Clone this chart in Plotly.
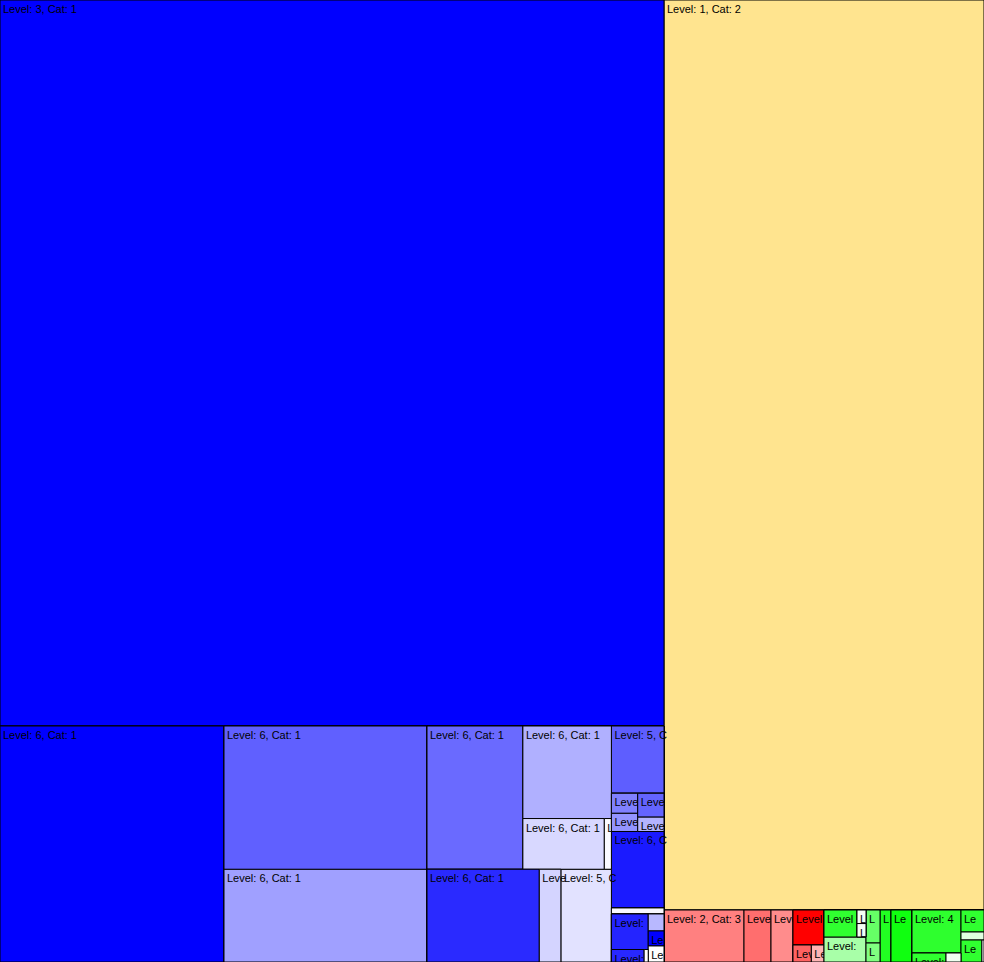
import plotly.graph_objects as go

# ---- hierarchy (ids / parents / labels) ----
node_ids = [
    "c1", "big", "B", "A", "C", "C1", "C2", "G", "D", "Dtop", "D1", "Dtr", "D2", "D3", "D4",
    "Dbot", "X", "D5", "D6", "D7", "E", "E1", "Emid", "EmL", "E2", "E4", "EmR", "E3", "E5",
    "E6", "Ebot", "E7", "Ebb", "EL", "E8", "E9row", "E9", "E9t", "ER", "ER1", "ER2", "ER3",
    "c2",
    "c3", "R1", "R2", "R3", "R4", "R4a", "R4b", "R4b1", "R4b2",
    "c4", "GA", "G1", "G1top", "G1a", "G1w", "G1w1", "G1w2", "G1b", "G2", "G2a", "G2b",
    "GR", "G3", "H", "G4", "GC", "G5", "G5a", "G5b", "G5b1", "G5b2", "G6", "G6a", "G6w", "G6b", "G6t",
]
node_parents = [
    "", "c1", "c1", "B", "B", "C", "C", "B", "G", "D", "Dtop", "Dtop", "Dtr", "Dtr", "Dtr",
    "D", "Dbot", "X", "X", "Dbot", "G", "E", "E", "Emid", "EmL", "EmL", "Emid", "EmR", "EmR",
    "E", "E", "Ebot", "Ebot", "Ebb", "EL", "EL", "E9row", "E9row", "Ebb", "ER", "ER", "ER",
    "",
    "", "c3", "c3", "c3", "c3", "R4", "R4", "R4b", "R4b",
    "", "c4", "GA", "G1", "G1top", "G1top", "G1w", "G1w", "G1", "GA", "G2", "G2",
    "c4", "GR", "GR", "H", "H", "GC", "G5", "G5", "G5b", "G5b", "GC", "G6", "G6", "G6", "G6",
]
node_labels = [
    "Level: 1, Cat: 1", "Level: 3, Cat: 1", "Level: 2, Cat: 1", "Level: 6, Cat: 1",
    "Level: 3, Cat: 1", "Level: 6, Cat: 1", "Level: 6, Cat: 1", "Level: 3, Cat: 1",
    "Level: 4, Cat: 1", "Level: 5, Cat: 1", "Level: 6, Cat: 1", "Level: 5, Cat: 1",
    "Level: 6, Cat: 1", "Level: 6, Cat: 1", "Level: 6, Cat: 1",
    "Level: 4, Cat: 1", "Level: 5, Cat: 1", "Level: 6, Cat: 1", "Level: 6, Cat: 1",
    "Level: 5, Cat: 1", "Level: 4, Cat: 1", "Level: 5, Cat: 1", "Level: 4, Cat: 1",
    "Level: 5, Cat: 1", "Level: 6, Cat: 1", "Level: 6, Cat: 1", "Level: 5, Cat: 1",
    "Level: 6, Cat: 1", "Level: 6, Cat: 1",
    "Level: 6, Cat: 1", "Level: 4, Cat: 1", "Level: 6, Cat: 1", "Level: 5, Cat: 1",
    "Level: 5, Cat: 1", "Level: 6, Cat: 1", "Level: 5, Cat: 1", "Level: 6, Cat: 1",
    "Level: 6, Cat: 1", "Level: 5, Cat: 1", "Level: 6, Cat: 1", "Level: 6, Cat: 1",
    "Level: 6, Cat: 1",
    "Level: 1, Cat: 2",
    "Level: 1, Cat: 3", "Level: 2, Cat: 3", "Level: 2, Cat: 3", "Level: 3, Cat: 3",
    "Level: 2, Cat: 3", "Level: 3, Cat: 3", "Level: 3, Cat: 3", "Level: 4, Cat: 3",
    "Level: 4, Cat: 3",
    "Level: 1, Cat: 4", "Level: 2, Cat: 4", "Level: 3, Cat: 4", "Level: 4, Cat: 4",
    "Level: 5, Cat: 4", "Level: 5, Cat: 4", "Level: 6, Cat: 4", "Level: 6, Cat: 4",
    "Level: 5, Cat: 4", "Level: 3, Cat: 4", "Level: 4, Cat: 4", "Level: 4, Cat: 4",
    "Level: 2, Cat: 4", "Level: 3, Cat: 4", "Level: 2, Cat: 4", "Level: 3, Cat: 4",
    "Level: 3, Cat: 4", "Level: 3, Cat: 4", "Level: 4, Cat: 4", "Level: 4, Cat: 4",
    "Level: 5, Cat: 4", "Level: 5, Cat: 4", "Level: 3, Cat: 4", "Level: 4, Cat: 4",
    "Level: 4, Cat: 4", "Level: 4, Cat: 4", "Level: 4, Cat: 4",
]

# ---- values (leaf sizes; parents carry 0 and sum their children) ----
node_values = [
    0, 482064, 0, 52864, 0, 29100, 18808, 0, 0, 0, 13736, 0, 8191, 4129, 359,
    0, 0, 10416, 2001, 4686, 0, 3538, 0, 0, 528, 478, 0, 628, 377,
    4022, 0, 316, 0, 0, 1309, 0, 409, 51, 0, 268, 237, 253,
    291200,
    0, 4160, 1404, 1144, 0, 1085, 0, 312, 215,
    0, 0, 0, 0, 891, 0, 122, 121, 1050, 0, 462, 266,
    0, 572, 0, 1092, 0, 0, 2107, 0, 306, 135, 0, 506, 184, 460, 46,
]

# ---- colours ----
node_colors = [
    "#0000FF", "#0000FF", "#0000FF", "#0000FF", "#6060FF", "#6060FF", "#A0A0FF", "#0000FF",
    "#6A6AFF", "#6A6AFF", "#6A6AFF", "#B0B0FF", "#B0B0FF", "#D8D8FF", "#FAFAFF",
    "#2A2AFF", "#2A2AFF", "#2A2AFF", "#D4D4FF", "#E2E2FF", "#5E5EFF", "#5E5EFF", "#8080FF",
    "#8080FF", "#8080FF", "#9494FF", "#6464FF", "#6464FF", "#B4B4FF",
    "#1A1AFF", "#F8F8FF", "#F8F8FF", "#2424FF", "#2424FF", "#2424FF", "#2828FF", "#2828FF",
    "#FFFFFF", "#B8B8FF", "#B8B8FF", "#0000FF", "#FFFFFF",
    "#FFE48F",
    "#FF8080", "#FF8080", "#FF6E6E", "#FF8C8C", "#FF0000", "#FF0000", "#FF6262", "#FF6262",
    "#FFB4B4",
    "#30FF30", "#30FF30", "#30FF30", "#30FF30", "#30FF30", "#F4FFF4", "#F4FFF4", "#F4FFF4",
    "#A8FFA8", "#66FF66", "#66FF66", "#80FF80",
    "#22FF22", "#22FF22", "#10FF10", "#10FF10", "#2EFF2E", "#2EFF2E", "#2EFF2E", "#30FF30",
    "#30FF30", "#F0FFF0", "#30FF30", "#30FF30", "#E0FFE0", "#30FF30", "#FFFFFF",
]

# ---- label text as it appears (clipped) in each cell ----
node_text = [
    "", "Level: 3, Cat: 1", "", "Level: 6, Cat: 1", "", "Level: 6, Cat: 1", "Level: 6, Cat: 1",
    "", "", "", "Level: 6, Cat: 1", "", "Level: 6, Cat: 1", "Level: 6, Cat: 1", "L",
    "", "", "Level: 6, Cat: 1", "Leve", "Level: 5, C", "", "Level: 5, C", "",
    "", "Level", "Level", "", "Leve", "Leve",
    "Level: 6, C", "", "", "", "", "Level:", "", "Level:", "", "", "", "Le", "Le",
    "Level: 1, Cat: 2",
    "", "Level: 2, Cat: 3", "Level", "Leve", "", "Level", "", "Lev", "Le",
    "", "", "", "", "Level", "", "L", "L", "Level:", "", "L", "L",
    "", "L", "", "Le", "", "", "Level: 4", "", "Level: 5", "", "", "Le", "", "Le", "",
]

fig = go.Figure(
    go.Treemap(
        ids=node_ids,
        labels=node_labels,
        parents=node_parents,
        values=node_values,
        branchvalues="remainder",
        sort=False,
        text=node_text,
        textinfo="text",
        textposition="top left",
        textfont=dict(family="Liberation Sans, Arial, sans-serif", size=11, color="black"),
        marker=dict(
            colors=node_colors,
            line=dict(color="black", width=1),
            pad=dict(t=0, l=0, r=0, b=0),
        ),
        tiling=dict(packing="squarify", squarifyratio=1, pad=0),
        pathbar=dict(visible=False),
        root=dict(color="white"),
        hoverinfo="none",
    )
)
fig.update_layout(
    width=984,
    height=962,
    margin=dict(l=0, r=0, t=0, b=0),
    paper_bgcolor="white",
    uniformtext=dict(minsize=11, mode="show"),
    hovermode=False,
)
fig.write_html(
    "out.html",
    config={"displayModeBar": False, "staticPlot": True},
    post_script="document.body.style.margin='0';",
)
